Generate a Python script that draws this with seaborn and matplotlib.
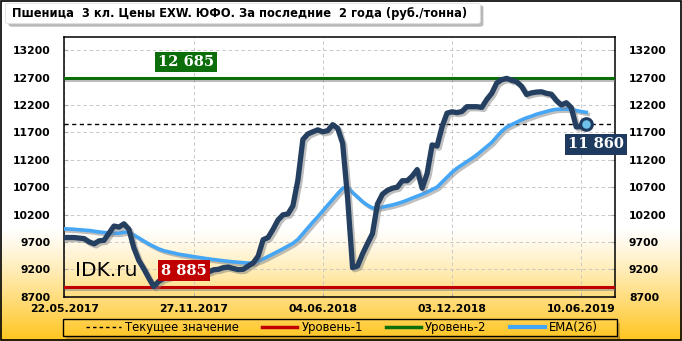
import numpy as np
import pandas as pd
import matplotlib
matplotlib.use("Agg")
import matplotlib.pyplot as plt
import matplotlib.patheffects as pe
from matplotlib.lines import Line2D
from matplotlib.patches import FancyBboxPatch
import seaborn as sns

# ---------------- data (weekly) ----------------
tick_labels = ["22.05.2017", "27.11.2017", "04.06.2018", "03.12.2018", "10.06.2019"]
tick_index = [0, 26, 52, 78, 104]

price = [9780, 9780, 9780, 9770, 9760, 9700, 9665, 9720, 9730, 9860,
         9990, 9970, 10030, 9930, 9590, 9360, 9210, 9040, 8885, 8980,
         9030, 9060, 9080, 9090, 9100, 9110, 9120, 9130, 9140, 9150,
         9190, 9200, 9230, 9240, 9215, 9195, 9200, 9260, 9315, 9440,
         9740, 9780, 9930, 10100, 10195, 10210, 10360, 10830, 11570, 11670,
         11710, 11745, 11710, 11730, 11840, 11775, 11500, 10500, 9230, 9260,
         9480, 9670, 9850, 10390, 10570, 10640, 10680, 10700, 10817, 10817,
         10900, 11020, 10680, 10950, 11470, 11450, 11800, 12050, 12075, 12060,
         12080, 12168, 12168, 12168, 12155, 12300, 12412, 12600, 12660, 12685,
         12650, 12624, 12540, 12390, 12420, 12435, 12440, 12412, 12395, 12280,
         12200, 12240, 12150, 11800, 11803, 11860]

ema26 = [9940, 9935, 9930, 9922, 9915, 9908, 9895, 9882, 9872, 9864,
         9858, 9860, 9876, 9882, 9826, 9772, 9716, 9663, 9617, 9572,
         9540, 9518, 9497, 9476, 9461, 9447, 9432, 9418, 9404, 9390,
         9378, 9367, 9356, 9345, 9336, 9328, 9321, 9314, 9318, 9350,
         9388, 9434, 9480, 9527, 9575, 9625, 9675, 9745, 9850, 9955,
         10060, 10160, 10265, 10370, 10475, 10580, 10680, 10700, 10600, 10520,
         10435, 10370, 10320, 10318, 10335, 10355, 10375, 10400, 10428, 10462,
         10500, 10535, 10570, 10610, 10655, 10700, 10790, 10880, 10970, 11045,
         11105, 11165, 11225, 11290, 11365, 11440, 11515, 11620, 11720, 11795,
         11840, 11885, 11928, 11965, 11995, 12030, 12055, 12080, 12105, 12120,
         12123, 12125, 12115, 12098, 12080, 12065]

level_1 = 8885
level_2 = 12685
current = 11860
yticks = [8700, 9200, 9700, 10200, 10700, 11200, 11700, 12200, 12700, 13200]

title = "Пшеница  3 кл. Цены EXW. ЮФО. За последние  2 года (руб./тонна)"

df = pd.DataFrame({"week": np.arange(len(price)), "price": price, "ema": ema26})

# ---------------- figure ----------------
W, H = 682, 341
fig = plt.figure(figsize=(W / 100, H / 100), dpi=100)

# background gradient (white -> gold at bottom)
bg = fig.add_axes([0, 0, 1, 1], zorder=-10)
bg.set_axis_off()
ys = np.linspace(0, 1, H)  # 0 = top, 1 = bottom
t = np.clip((ys - 0.67) / 0.33, 0, 1) ** 1.15
top_c = np.array([1.0, 1.0, 1.0])
bot_c = np.array([1.0, 0.77, 0.12])
grad = top_c[None, :] * (1 - t[:, None]) + bot_c[None, :] * t[:, None]
img = np.repeat(grad[:, None, :], 4, axis=1)
bg.imshow(img, aspect="auto", extent=[0, 1, 0, 1])
bg.set_xlim(0, 1)
bg.set_ylim(0, 1)
# outer border
bg.add_patch(plt.Rectangle((0.0015, 0.003), 0.997, 0.994, fill=False,
                           edgecolor="black", linewidth=1.2, transform=bg.transAxes))
# legend frame with a thin shadow on right and bottom
bg.add_patch(plt.Rectangle((617 / W, 1 - 338.5 / H), 2.5 / W, 16 / H, fc="#9C7A1C",
                           ec="none", alpha=0.45, transform=bg.transAxes))
bg.add_patch(plt.Rectangle((66 / W, 1 - 338.5 / H), 553.5 / W, 2.5 / H, fc="#9C7A1C",
                           ec="none", alpha=0.45, transform=bg.transAxes))
bg.add_patch(plt.Rectangle((63 / W, 1 - 336 / H), 554 / W, 17 / H, fill=False,
                           ec="black", lw=1.0, transform=bg.transAxes))

ax = fig.add_axes([64.3 / W, 1 - 296.7 / H, (615 - 64.3) / W, (296.7 - 37) / H])
ax.set_facecolor("none")

shadow = [pe.SimpleLineShadow(offset=(1.5, -1.5), shadow_color="gray", alpha=0.5), pe.Normal()]

# level lines
ax.axhline(level_2, color="#0B6E0B", lw=2.2, zorder=3, path_effects=shadow)
ax.axhline(level_1, color="#C00000", lw=2.2, zorder=3, path_effects=shadow)
ax.plot([0, 110.5], [current, current], color="black", lw=1.0, ls=(0, (3, 2.5)), zorder=3)

# EMA and price
sns.lineplot(data=df, x="week", y="ema", ax=ax, color="#45A6F5", lw=2.6,
             zorder=5, path_effects=shadow, legend=False)
sns.lineplot(data=df, x="week", y="price", ax=ax, color="#243F60", lw=3.8,
             zorder=6, path_effects=shadow, legend=False)
ax.scatter([df["week"].iloc[-1]], [price[-1]], s=70, color="#6EC1E8",
           edgecolor="#1F3A5F", linewidth=2.2, zorder=8)

ax.set_xlim(0, 110.8)
ax.set_ylim(8700, 13440)
ax.set_yticks(yticks)
ax.set_yticklabels([str(v) for v in yticks])
ax.set_xticks(tick_index)
ax.set_xticklabels(tick_labels)
ax.tick_params(axis="both", length=3, color="#AAAAAA", direction="in",
               labelsize=7.8)
ax.tick_params(axis="y", labelleft=True, labelright=True, left=True, right=True)
for lab in ax.get_xticklabels():
    lab.set_fontweight("bold")
for t2 in ax.yaxis.get_major_ticks():
    t2.label1.set_fontweight("bold")
    t2.label2.set_fontweight("bold")
    t2.label2.set_horizontalalignment("left")
    t2.set_pad(10)
for t2 in ax.xaxis.get_major_ticks():
    t2.set_pad(5)
ax.set_xlabel("")
ax.set_ylabel("")
ax.grid(True, color="#C8C8C8", ls=(0, (3.5, 3)), lw=0.7)
ax.set_axisbelow(True)
for s in ax.spines.values():
    s.set_color("black")
    s.set_linewidth(1.1)

# value labels
def vbox(x, y, text, color):
    ax.text(x, y, text, color="white", fontsize=10.5, fontweight="bold",
            family="DejaVu Serif", ha="center", va="center", zorder=10,
            bbox=dict(boxstyle="square,pad=0.22", fc=color, ec="none"))

vbox(24.5, level_2 + 300, "12 685", "#0B6E0B")
vbox(24.0, level_1 + 290, "8 885", "#C00000")
vbox(107.0, current - 380, "11 860", "#1F3A5F")

ax.text(2.2, level_1 + 290, "IDK.ru", fontsize=14.5, color="black", ha="left",
        va="center", zorder=9)

# title box
fig.patches.append(FancyBboxPatch((10 / W, 1 - 26 / H), 472 / W, 20 / H,
                                  boxstyle="round,pad=0.002,rounding_size=0.006",
                                  transform=fig.transFigure, fc="#9A9A9A", ec="none",
                                  zorder=1, alpha=0.7))
fig.patches.append(FancyBboxPatch((7 / W, 1 - 23 / H), 472 / W, 19 / H,
                                  boxstyle="round,pad=0.002,rounding_size=0.006",
                                  transform=fig.transFigure, fc="white", ec="#DDDDDD",
                                  lw=0.6, zorder=2))
fig.text(12 / W, 1 - 13.5 / H, title, fontsize=9.2, fontweight="bold",
         fontstretch="condensed", family=["DejaVu Sans"], ha="left", va="center",
         zorder=3)

# legend (entries only; frame drawn above)
handles = [
    Line2D([], [], color="black", lw=1.0, ls=(0, (2.5, 2.2))),
    Line2D([], [], color="#C00000", lw=2.5),
    Line2D([], [], color="#0B6E0B", lw=2.5),
    Line2D([], [], color="#45A6F5", lw=3.0),
]
labels = ["Текущее значение", "Уровень-1", "Уровень-2", "EMA(26)"]
leg = fig.legend(handles, labels, loc="center", bbox_to_anchor=(342 / W, 1 - 327.5 / H),
                 ncol=4, frameon=False,
                 prop={"size": 8.4},
                 handlelength=3.0, columnspacing=2.0, handletextpad=0.35,
                 borderpad=0.1)

fig.savefig("out.png", dpi=100)
